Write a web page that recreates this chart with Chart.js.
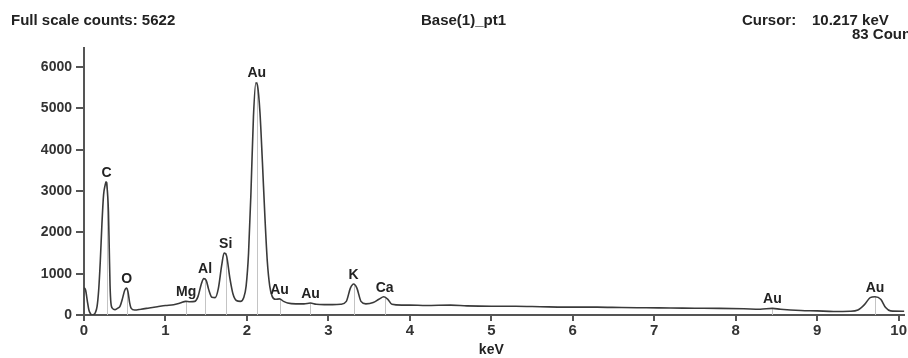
<!DOCTYPE html>
<html>
<head>
<meta charset="utf-8">
<script src="https://cdn.jsdelivr.net/npm/chart.js@4/dist/chart.umd.min.js"></script>
<style>
  html, body { margin: 0; padding: 0; background: #fff; }
  #wrap { position: relative; width: 908px; height: 358px; }
</style>
</head>
<body>
<div id="wrap"><canvas id="edsChart" width="908" height="358"></canvas></div>
<script>
// spectrum (keV, counts)
const energies = [0.00, 0.02, 0.04, 0.06, 0.08, 0.10, 0.12, 0.14, 0.16, 0.18, 0.20, 0.22, 0.24, 0.26, 0.27, 0.28, 0.30, 0.31, 0.32, 0.33,
    0.35, 0.38, 0.41, 0.44, 0.47, 0.50, 0.52, 0.54, 0.56, 0.58, 0.62, 0.70, 0.80, 0.90, 1.00, 1.10, 1.18, 1.25, 1.30, 1.36,
    1.40, 1.44, 1.47, 1.50, 1.53, 1.57, 1.61, 1.65, 1.69, 1.72, 1.75, 1.79, 1.83, 1.87, 1.92, 1.96, 1.99, 2.02, 2.05, 2.08,
    2.11, 2.13, 2.16, 2.19, 2.22, 2.25, 2.28, 2.31, 2.35, 2.40, 2.45, 2.50, 2.60, 2.70, 2.78, 2.85, 2.95, 3.05, 3.15, 3.22,
    3.27, 3.31, 3.35, 3.40, 3.46, 3.55, 3.62, 3.68, 3.73, 3.78, 3.90, 4.00, 4.20, 4.50, 4.70, 5.00, 5.30, 5.60, 5.90, 6.00,
    6.30, 6.60, 6.90, 7.20, 7.50, 7.80, 8.10, 8.30, 8.45, 8.55, 8.80, 9.00, 9.20, 9.40, 9.50, 9.58, 9.65, 9.71, 9.78, 9.84,
    9.90, 10.07];
const counts = [660, 600, 350, 120, 30, 0, 10, 60, 200, 600, 1300, 2200, 2900, 3150, 3220, 3150, 2500, 1600, 700, 300,
    160, 130, 160, 200, 380, 600, 650, 560, 300, 160, 120, 140, 170, 200, 230, 250, 290, 330, 320, 330,
    450, 750, 880, 840, 620, 430, 420, 650, 1200, 1500, 1430, 900, 500, 350, 330, 420, 700, 1500, 3000, 4800,
    5620, 5550, 4900, 3700, 2400, 1300, 700, 450, 380, 390, 330, 290, 270, 270, 290, 260, 250, 250, 260, 330,
    650, 750, 650, 330, 270, 300, 380, 440, 380, 260, 240, 240, 230, 240, 220, 210, 210, 200, 190, 190,
    190, 180, 175, 170, 165, 160, 150, 140, 160, 140, 110, 100, 85, 90, 120, 250, 420, 440, 380, 180,
    100, 90];

// element markers
const peakNames = ['C', 'O', 'Mg', 'Al', 'Si', 'Au', 'Au', 'Au', 'K', 'Ca', 'Au', 'Au'];
const peakEnergies = [0.277, 0.525, 1.253, 1.486, 1.739, 2.12, 2.40, 2.78, 3.31, 3.69, 8.45, 9.71];
const peakCounts = [3220, 650, 330, 880, 1500, 5640, 390, 290, 750, 440, 160, 440];

const xTicks = [0, 1, 2, 3, 4, 5, 6, 7, 8, 9, 10];
const yTicks = [0, 1000, 2000, 3000, 4000, 5000, 6000];

const headerLeft = 'Full scale counts: 5622';
const headerMid = 'Base(1)_pt1';
const cursorLabel = 'Cursor:';
const cursorKeV = '10.217 keV';
const cursorCounts = '83 Counts';

const textFont = '"Liberation Sans", Arial, sans-serif';

const markerPlugin = {
    id: 'markers',
    beforeDatasetsDraw(chart) {
        const ctx = chart.ctx, x = chart.scales.x, y = chart.scales.y;
        ctx.save();
        ctx.strokeStyle = '#c4c4c4';
        ctx.lineWidth = 1;
        for (let i = 0; i < peakEnergies.length; i++) {
            const px = Math.round(x.getPixelForValue(peakEnergies[i])) + 0.5;
            ctx.beginPath();
            ctx.moveTo(px, y.getPixelForValue(0));
            ctx.lineTo(px, y.getPixelForValue(peakCounts[i]));
            ctx.stroke();
        }
        ctx.restore();
    },
    afterDraw(chart) {
        const ctx = chart.ctx, x = chart.scales.x, y = chart.scales.y;
        ctx.save();
        ctx.fillStyle = '#222';
        ctx.textAlign = 'center';
        ctx.textBaseline = 'bottom';
        ctx.font = 'bold 14px ' + textFont;
        for (let i = 0; i < peakNames.length; i++) {
            ctx.fillText(peakNames[i], x.getPixelForValue(peakEnergies[i]), y.getPixelForValue(peakCounts[i]) - 2);
        }
        // header texts
        ctx.font = 'bold 15px ' + textFont;
        ctx.textBaseline = 'alphabetic';
        ctx.textAlign = 'left';
        ctx.fillText(headerLeft, 11, 25);
        ctx.fillText(headerMid, 421, 25);
        ctx.fillText(cursorLabel, 742, 25);
        ctx.fillText(cursorKeV, 812, 25);
        ctx.fillText(cursorCounts, 852, 39);
        // axis title
        ctx.font = 'bold 14px ' + textFont;
        ctx.textAlign = 'center';
        ctx.textBaseline = 'middle';
        ctx.fillText('keV', x.getPixelForValue(5), 350);
        ctx.restore();
    }
};

new Chart(document.getElementById('edsChart'), {
    type: 'line',
    data: {
        datasets: [{
            data: energies.map((e, i) => ({ x: e, y: counts[i] })),
            borderColor: '#3a3a3a',
            borderWidth: 1.6,
            pointRadius: 0,
            cubicInterpolationMode: 'monotone',
            fill: false
        }]
    },
    options: {
        responsive: false,
        animation: false,
        layout: { padding: { top: 48, left: 0, right: 0, bottom: 0 } },
        plugins: { legend: { display: false }, tooltip: { enabled: false } },
        scales: {
            x: {
                type: 'linear',
                min: 0,
                max: 10.07,
                afterBuildTicks: s => { s.ticks = xTicks.map(v => ({ value: v })); },
                afterFit: s => { s.height = 43; },
                grid: { drawOnChartArea: false, drawTicks: true, tickLength: 6, color: '#555', lineWidth: 2 },
                border: { color: '#555', width: 2 },
                ticks: { color: '#333', font: { family: textFont, size: 15, weight: 'bold' }, padding: 1, maxRotation: 0 }
            },
            y: {
                type: 'linear',
                min: 0,
                max: 6460,
                afterBuildTicks: s => { s.ticks = yTicks.map(v => ({ value: v })); },
                afterFit: s => { s.width = 84; },
                grid: { drawOnChartArea: false, drawTicks: true, tickLength: 8, color: '#555', lineWidth: 2 },
                border: { color: '#555', width: 2 },
                ticks: {
                    color: '#333', font: { family: textFont, size: 14, weight: 'bold' }, padding: 4,
                    callback: v => String(v)
                }
            }
        }
    },
    plugins: [markerPlugin]
});
</script>
</body>
</html>
